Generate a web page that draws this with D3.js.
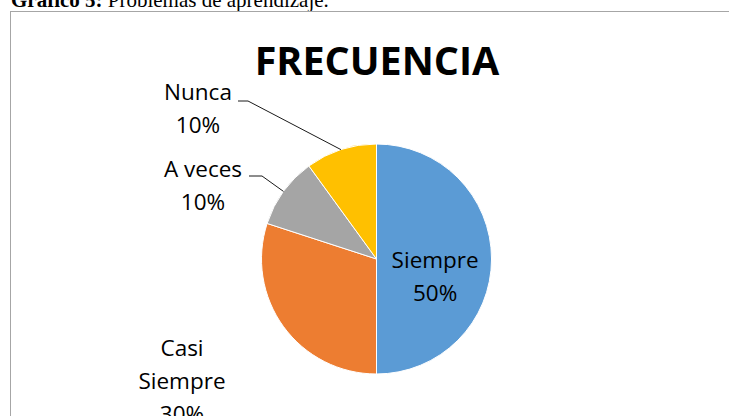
<!DOCTYPE html>
<html>
<head>
<meta charset="utf-8">
<script src="https://cdn.jsdelivr.net/npm/d3@7"></script>
<style>
  body { margin: 0; background: #fff; }
  svg { display: block; }
</style>
</head>
<body>
<div id="chart"></div>
<script>
// data
const categories = ["Siempre", "Casi Siempre", "A veces", "Nunca"];
const values = [50, 30, 10, 10];
const colors = ["#5B9BD5", "#ED7D31", "#A5A5A5", "#FFC000"];

// label layout (text blocks outside the pie), null = inside label
const labelLines = [["Siempre"], ["Casi", "Siempre"], ["A veces"], ["Nunca"]];
const labelSpots = [null, {x: 182, y: 356}, {x: 203, y: 177}, {x: 198, y: 100}];
const leaderElbow = [null, null, {x1: 249, x2: 262, y: 176}, {x1: 238, x2: 248, y: 101}];

const width = 729, height = 416;
const cx = 376.5, cy = 259, radius = 115;
const lineGap = 33;

const svg = d3.select("#chart")
  .append("svg")
    .attr("width", width)
    .attr("height", height);

// caption above the chart frame (cut by the crop)
const cap = svg.append("text")
  .attr("x", 11).attr("y", 7)
  .style("font-family", "'Liberation Serif', 'Times New Roman', serif")
  .style("font-size", "21px")
  .style("fill", "#000");
cap.append("tspan").style("font-weight", "bold").text("Gráfico 5:");
cap.append("tspan").text(" Problemas de aprendizaje.");

// chart frame
svg.append("rect")
  .attr("x", 10.5).attr("y", 11.5)
  .attr("width", 740).attr("height", 430)
  .attr("fill", "#fff")
  .attr("stroke", "#a6a6a6")
  .attr("stroke-width", 1);

// title
svg.append("text")
  .attr("x", 377).attr("y", 75)
  .attr("text-anchor", "middle")
  .style("font-family", "'Open Sans', sans-serif")
  .style("font-weight", "bold")
  .style("font-size", "39.5px")
  .style("fill", "#000")
  .text("FRECUENCIA");

const data = categories.map((c, i) => ({name: c, value: values[i], i: i}));

const pie = d3.pie().sort(null).value(d => d.value);
const arcs = pie(data);

const arc = d3.arc().innerRadius(0).outerRadius(radius);
const edgeArc = d3.arc().innerRadius(radius).outerRadius(radius);
const inArc = d3.arc().innerRadius(radius * 0.51).outerRadius(radius * 0.51);

const g = svg.append("g").attr("transform", `translate(${cx},${cy})`);

g.selectAll("path")
  .data(arcs)
  .join("path")
    .attr("d", arc)
    .attr("fill", d => colors[d.data.i])
    .attr("stroke", "#fff")
    .attr("stroke-width", 1);

// leader lines
arcs.forEach(d => {
  const e = leaderElbow[d.data.i];
  if (!e) return;
  const p = edgeArc.centroid(d);
  svg.append("polyline")
    .attr("points", `${e.x1},${e.y} ${e.x2},${e.y} ${cx + p[0]},${cy + p[1]}`)
    .attr("fill", "none")
    .attr("stroke", "#1a1a1a")
    .attr("stroke-width", 1);
});

// labels
arcs.forEach(d => {
  const i = d.data.i;
  const lines = labelLines[i].concat([d3.format(".0%")(d.data.value / d3.sum(values))]);
  let x, y;
  if (labelSpots[i]) { x = labelSpots[i].x; y = labelSpots[i].y; }
  else { const c = inArc.centroid(d); x = cx + c[0]; y = cy + c[1] + 9; }
  const t = svg.append("text")
    .attr("text-anchor", "middle")
    .style("font-family", "'Open Sans', sans-serif")
    .style("font-size", "22.5px")
    .style("fill", "#000");
  lines.forEach((s, k) => {
    t.append("tspan").attr("x", x).attr("y", y + k * lineGap).text(s);
  });
});
</script>
</body>
</html>
